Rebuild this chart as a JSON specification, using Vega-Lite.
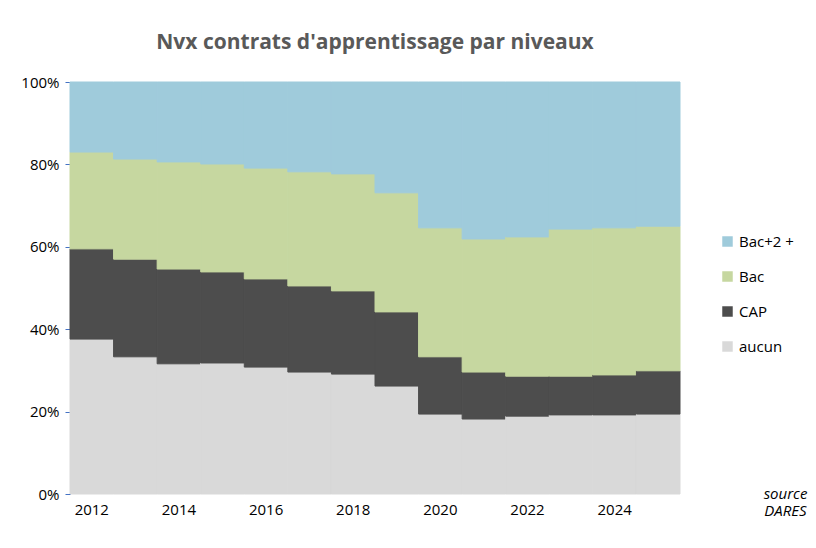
{
"$schema":"https://vega.github.io/schema/vega-lite/v6.json",
"width":610,"height":412,
"autosize":"none",
"padding":{"left":70,"top":82,"right":136,"bottom":54},
"background":"white",
"title":{"text":"Nvx contrats d'apprentissage par niveaux","fontSize":21,"font":"Open Sans","fontWeight":"bold","color":"#595959","offset":22,"anchor":"middle"},
"config":{"view":{"stroke":null},"font":"Open Sans"},
"data":{"values":[
{"y":2012,"n":"aucun","o":1,"v":37.6},{"y":2012,"n":"CAP","o":2,"v":21.9},{"y":2012,"n":"Bac","o":3,"v":23.5},{"y":2012,"n":"Bac+2 +","o":4,"v":17.0},
{"y":2013,"n":"aucun","o":1,"v":33.3},{"y":2013,"n":"CAP","o":2,"v":23.7},{"y":2013,"n":"Bac","o":3,"v":24.3},{"y":2013,"n":"Bac+2 +","o":4,"v":18.7},
{"y":2014,"n":"aucun","o":1,"v":31.6},{"y":2014,"n":"CAP","o":2,"v":23.0},{"y":2014,"n":"Bac","o":3,"v":26.0},{"y":2014,"n":"Bac+2 +","o":4,"v":19.4},
{"y":2015,"n":"aucun","o":1,"v":31.8},{"y":2015,"n":"CAP","o":2,"v":22.1},{"y":2015,"n":"Bac","o":3,"v":26.2},{"y":2015,"n":"Bac+2 +","o":4,"v":19.9},
{"y":2016,"n":"aucun","o":1,"v":30.8},{"y":2016,"n":"CAP","o":2,"v":21.4},{"y":2016,"n":"Bac","o":3,"v":26.9},{"y":2016,"n":"Bac+2 +","o":4,"v":20.9},
{"y":2017,"n":"aucun","o":1,"v":29.6},{"y":2017,"n":"CAP","o":2,"v":20.9},{"y":2017,"n":"Bac","o":3,"v":27.7},{"y":2017,"n":"Bac+2 +","o":4,"v":21.8},
{"y":2018,"n":"aucun","o":1,"v":29.1},{"y":2018,"n":"CAP","o":2,"v":20.2},{"y":2018,"n":"Bac","o":3,"v":28.4},{"y":2018,"n":"Bac+2 +","o":4,"v":22.3},
{"y":2019,"n":"aucun","o":1,"v":26.2},{"y":2019,"n":"CAP","o":2,"v":18.0},{"y":2019,"n":"Bac","o":3,"v":28.9},{"y":2019,"n":"Bac+2 +","o":4,"v":26.9},
{"y":2020,"n":"aucun","o":1,"v":19.4},{"y":2020,"n":"CAP","o":2,"v":13.9},{"y":2020,"n":"Bac","o":3,"v":31.3},{"y":2020,"n":"Bac+2 +","o":4,"v":35.4},
{"y":2021,"n":"aucun","o":1,"v":18.2},{"y":2021,"n":"CAP","o":2,"v":11.4},{"y":2021,"n":"Bac","o":3,"v":32.3},{"y":2021,"n":"Bac+2 +","o":4,"v":38.1},
{"y":2022,"n":"aucun","o":1,"v":18.9},{"y":2022,"n":"CAP","o":2,"v":9.7},{"y":2022,"n":"Bac","o":3,"v":33.8},{"y":2022,"n":"Bac+2 +","o":4,"v":37.6},
{"y":2023,"n":"aucun","o":1,"v":19.2},{"y":2023,"n":"CAP","o":2,"v":9.4},{"y":2023,"n":"Bac","o":3,"v":35.7},{"y":2023,"n":"Bac+2 +","o":4,"v":35.7},
{"y":2024,"n":"aucun","o":1,"v":19.2},{"y":2024,"n":"CAP","o":2,"v":9.7},{"y":2024,"n":"Bac","o":3,"v":35.7},{"y":2024,"n":"Bac+2 +","o":4,"v":35.4},
{"y":2025,"n":"aucun","o":1,"v":19.4},{"y":2025,"n":"CAP","o":2,"v":10.5},{"y":2025,"n":"Bac","o":3,"v":35.1},{"y":2025,"n":"Bac+2 +","o":4,"v":35.0}
]},
"mark":{"type":"bar","strokeWidth":1},
"encoding":{
"x":{"field":"y","type":"ordinal","scale":{"paddingInner":0,"paddingOuter":0},
 "axis":{"labelAngle":0,"labelExpr":"datum.value % 2 == 0 ? datum.label : ''","ticks":false,"domain":false,"labelFontSize":15,"labelColor":"#000","labelPadding":8,
 "title":["source","DARES"],"titleFontSize":15,"titleFontWeight":"normal","titleFontStyle":"italic","titleAnchor":"end","titleX":715,"titleY":-8,"titleAlign":"center","titleColor":"#000"}},
"y":{"field":"v","type":"quantitative","stack":"normalize",
 "axis":{"format":".0%","values":[0,0.2,0.4,0.6,0.8,1],"grid":false,"domainColor":"#4472c4","tickColor":"#4472c4","tickSize":5,"labelFontSize":15,"labelColor":"#000","labelPadding":6,"title":null}},
"color":{"field":"n","type":"nominal",
 "scale":{"domain":["Bac+2 +","Bac","CAP","aucun"],"range":["#9fcbdb","#c6d7a0","#4d4d4d","#d9d9d9"]},
 "legend":{"title":null,"orient":"none","legendX":650,"legendY":152,"symbolType":"square","symbolSize":110,"labelFontSize":15,"rowPadding":19,"symbolStrokeWidth":0}},
"stroke":{"field":"n","type":"nominal","scale":{"domain":["Bac+2 +","Bac","CAP","aucun"],"range":["#9fcbdb","#c6d7a0","#4d4d4d","#d9d9d9"]},"legend":null},
"order":{"field":"o","type":"quantitative"}
}
}
